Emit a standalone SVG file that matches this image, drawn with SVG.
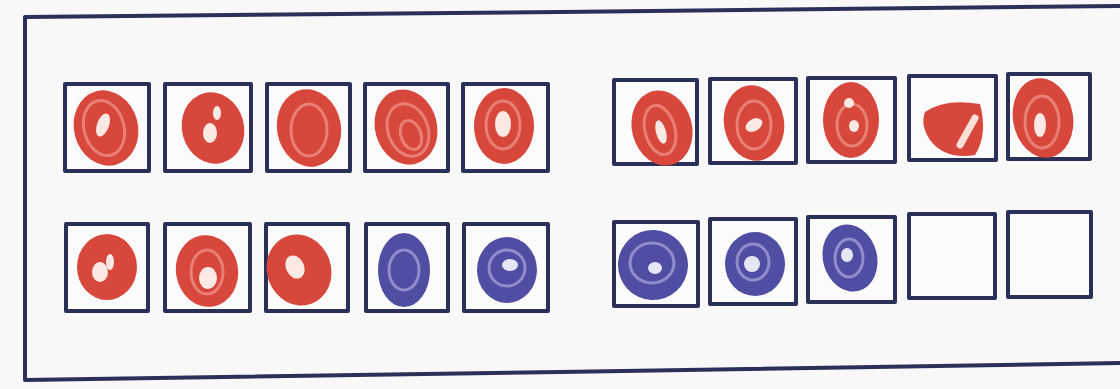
<svg xmlns="http://www.w3.org/2000/svg" width="1120" height="389" viewBox="0 0 1120 389">
  <defs>
    <style>
      .frame { fill: none; stroke: #2b3058; stroke-width: 4; stroke-linecap: round; }
      .cell { fill: #fbfbfb; stroke: #2b3058; stroke-width: 4; stroke-linejoin: round; }
      .red { fill: #d8473b; }
      .blue { fill: #4f4ea3; }
      .ring-r { fill: none; stroke: #ee8f85; stroke-width: 3; opacity: 0.8; }
      .ring-b { fill: none; stroke: #9f9fd6; stroke-width: 3; opacity: 0.8; }
      .hole { fill: #fde9e4; }
      .hole-b { fill: #e6e6f6; }
    </style>
  </defs>
  <rect width="1120" height="389" fill="#f8f8f8"/>
  <g id="outer-frame">
    <path class="frame" d="M25,17 L560,12 L1120,6 M25,17 L25,380 M25,380 L560,372 L1120,363"/>
  </g>

  <!-- Left ten-frame, top row -->
  <g id="L1"><rect class="cell" x="65" y="84" width="84" height="87"/><ellipse class="red" cx="106" cy="128" rx="32" ry="38" transform="rotate(-15 106 128)"/><ellipse class="ring-r" cx="104" cy="128" rx="20" ry="28" transform="rotate(-15 104 128)"/><ellipse class="hole" cx="103" cy="125" rx="6" ry="12" transform="rotate(20 103 125)"/></g>
  <g id="L2"><rect class="cell" x="165" y="84" width="86" height="87"/><ellipse class="red" cx="213" cy="128" rx="31" ry="36" transform="rotate(-15 213 128)"/><ellipse class="hole" cx="210" cy="133" rx="7" ry="10"/><ellipse class="hole" cx="217" cy="113" rx="4" ry="7"/></g>
  <g id="L3"><rect class="cell" x="267" y="84" width="83" height="87"/><ellipse class="red" cx="309" cy="128" rx="32" ry="39" transform="rotate(-10 309 128)"/><ellipse class="ring-r" cx="309" cy="130" rx="18" ry="26"/></g>
  <g id="L4"><rect class="cell" x="365" y="84" width="83" height="87"/><ellipse class="red" cx="406" cy="127" rx="31" ry="38" transform="rotate(-15 406 127)"/><ellipse class="ring-r" cx="408" cy="130" rx="20" ry="27" transform="rotate(-20 408 130)"/><ellipse class="ring-r" cx="411" cy="135" rx="10" ry="15" transform="rotate(-20 411 135)"/></g>
  <g id="L5"><rect class="cell" x="463" y="84" width="85" height="87"/><ellipse class="red" cx="504" cy="126" rx="30" ry="38"/><ellipse class="ring-r" cx="503" cy="125" rx="17" ry="24"/><ellipse class="hole" cx="503" cy="124" rx="8" ry="13"/></g>

  <!-- Left ten-frame, bottom row -->
  <g id="L6"><rect class="cell" x="66" y="224" width="82" height="87"/><ellipse class="red" cx="107" cy="267" rx="30" ry="33"/><ellipse class="hole" cx="100" cy="272" rx="8" ry="10"/><ellipse class="hole" cx="110" cy="262" rx="4" ry="8"/></g>
  <g id="L7"><rect class="cell" x="165" y="224" width="85" height="87"/><ellipse class="red" cx="207" cy="271" rx="31" ry="36" transform="rotate(-10 207 271)"/><ellipse class="hole" cx="208" cy="278" rx="9" ry="11"/><ellipse class="ring-r" cx="207" cy="272" rx="16" ry="22"/></g>
  <g id="L8"><rect class="cell" x="266" y="224" width="82" height="87"/><ellipse class="red" cx="299" cy="270" rx="32" ry="36" transform="rotate(-20 299 270)"/><ellipse class="hole" cx="295" cy="267" rx="9" ry="12" transform="rotate(-25 295 267)"/></g>
  <g id="L9"><rect class="cell" x="366" y="224" width="82" height="87"/><ellipse class="blue" cx="404" cy="270" rx="26" ry="37"/><ellipse class="ring-b" cx="404" cy="270" rx="15" ry="20"/></g>
  <g id="L10"><rect class="cell" x="464" y="224" width="84" height="87"/><ellipse class="blue" cx="507" cy="270" rx="30" ry="33"/><ellipse class="ring-b" cx="507" cy="268" rx="18" ry="18"/><ellipse class="hole-b" cx="510" cy="265" rx="8" ry="6"/></g>

  <!-- Right ten-frame, top row -->
  <g id="R1"><rect class="cell" x="614" y="80" width="83" height="84"/><ellipse class="red" cx="662" cy="128" rx="30" ry="38" transform="rotate(-15 662 128)"/><ellipse class="ring-r" cx="660" cy="130" rx="15" ry="25" transform="rotate(-15 660 130)"/><ellipse class="hole" cx="661" cy="132" rx="5" ry="12" transform="rotate(-15 661 132)"/></g>
  <g id="R2"><rect class="cell" x="710" y="79" width="86" height="84"/><ellipse class="red" cx="754" cy="123" rx="30" ry="38" transform="rotate(-10 754 123)"/><ellipse class="ring-r" cx="754" cy="125" rx="17" ry="24"/><ellipse class="hole" cx="754" cy="125" rx="9" ry="6" transform="rotate(-30 754 125)"/></g>
  <g id="R3"><rect class="cell" x="808" y="78" width="87" height="84"/><ellipse class="red" cx="851" cy="120" rx="28" ry="38"/><ellipse class="ring-r" cx="852" cy="125" rx="15" ry="21"/><ellipse class="hole" cx="854" cy="126" rx="5" ry="6"/><ellipse class="hole" cx="849" cy="103" rx="5" ry="5"/></g>
  <g id="R4"><rect class="cell" x="909" y="76" width="87" height="84"/><path class="red" d="M925,112 Q945,98 980,104 Q988,135 975,155 Q945,160 930,140 Q920,125 925,112 Z"/><path d="M975,118 L960,145" stroke="#fde0d9" stroke-width="7" stroke-linecap="round"/></g>
  <g id="R5"><rect class="cell" x="1008" y="74" width="82" height="85"/><ellipse class="red" cx="1043" cy="118" rx="30" ry="40" transform="rotate(-10 1043 118)"/><ellipse class="ring-r" cx="1042" cy="122" rx="17" ry="26"/><ellipse class="hole" cx="1040" cy="125" rx="6" ry="12"/></g>

  <!-- Right ten-frame, bottom row -->
  <g id="R6"><rect class="cell" x="614" y="222" width="84" height="84"/><ellipse class="blue" cx="653" cy="265" rx="35" ry="35" transform="rotate(-20 653 265)"/><ellipse class="ring-b" cx="652" cy="263" rx="22" ry="20"/><ellipse class="hole-b" cx="655" cy="268" rx="7" ry="6"/></g>
  <g id="R7"><rect class="cell" x="710" y="219" width="86" height="85"/><ellipse class="blue" cx="755" cy="264" rx="30" ry="32"/><ellipse class="ring-b" cx="753" cy="262" rx="16" ry="18"/><ellipse class="hole-b" cx="752" cy="264" rx="8" ry="8"/></g>
  <g id="R8"><rect class="cell" x="808" y="217" width="87" height="85"/><ellipse class="blue" cx="850" cy="258" rx="27" ry="34" transform="rotate(-15 850 258)"/><ellipse class="ring-b" cx="849" cy="258" rx="14" ry="19"/><ellipse class="hole-b" cx="847" cy="255" rx="6" ry="7"/></g>
  <g id="R9"><rect class="cell" x="909" y="214" width="86" height="84"/></g>
  <g id="R10"><rect class="cell" x="1008" y="212" width="83" height="85"/></g>

  <g id="connectors"></g>
</svg>
